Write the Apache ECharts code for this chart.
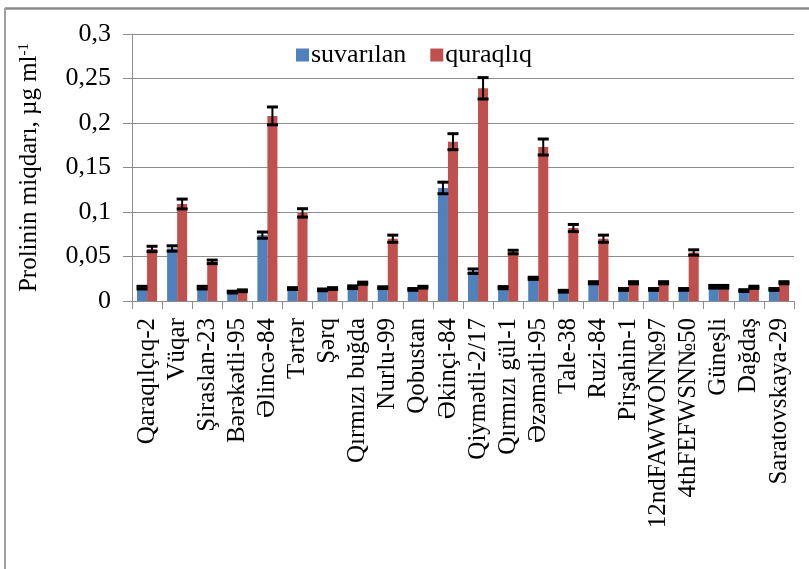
<!DOCTYPE html>
<html>
<head>
<meta charset="utf-8">
<script src="https://cdn.jsdelivr.net/npm/echarts@6/dist/echarts.min.js"></script>
<style>
  html, body { margin: 0; padding: 0; background: #fff; }
  #chart { width: 809px; height: 569px; }
</style>
</head>
<body>
<div id="chart"></div>
<script>
// Wheat varieties
const categories = ['Qaraqılçıq-2', 'Vüqar', 'Şiraslan-23', 'Bərəkətli-95', 'Əlincə-84', 'Tərtər', 'Şərq',
  'Qırmızı buğda', 'Nurlu-99', 'Qobustan', 'Əkinçi-84', 'Qiymətli-2/17', 'Qırmızı gül-1', 'Əzəmətli-95',
  'Tale-38', 'Ruzi-84', 'Pirşahin-1', '12ndFAWWON№97', '4thFEFWSN№50', 'Güneşli', 'Dağdaş', 'Saratovskaya-29'];

// Proline content, µg/ml
const suvarilan = [0.015, 0.059, 0.015, 0.010, 0.074, 0.014, 0.0125, 0.0155, 0.015, 0.013, 0.127,
  0.0335, 0.015, 0.0255, 0.011, 0.0205, 0.013, 0.013, 0.013, 0.016, 0.0117, 0.013];
const quraqliq = [0.0585, 0.109, 0.044, 0.0115, 0.208, 0.099, 0.014, 0.020, 0.070, 0.0155, 0.179,
  0.239, 0.055, 0.173, 0.082, 0.070, 0.0205, 0.0205, 0.0545, 0.016, 0.0154, 0.0205];

// Standard errors
const errSuvarilan = [0.0015, 0.003, 0.0015, 0.001, 0.0035, 0.001, 0.001, 0.0015, 0.001, 0.001, 0.0065,
  0.0025, 0.0012, 0.0012, 0.001, 0.0012, 0.001, 0.001, 0.001, 0.0015, 0.001, 0.001];
const errQuraqliq = [0.003, 0.0055, 0.002, 0.001, 0.010, 0.0047, 0.001, 0.0012, 0.004, 0.001, 0.009,
  0.012, 0.002, 0.009, 0.004, 0.004, 0.0012, 0.0012, 0.003, 0.0015, 0.0012, 0.0012];

const yTickLabels = ['0', '0,05', '0,1', '0,15', '0,2', '0,25', '0,3'];

const FONT = '"Liberation Serif", "Times New Roman", serif';
const BLUE = '#4F81BD';
const RED = '#C0504D';

function errorSeries(values, errors, side) {
  return {
    type: 'custom',
    silent: true,
    z: 5,
    data: values.map((v, i) => [i, v, errors[i]]),
    renderItem: function (params, api) {
      const i = api.value(0), v = api.value(1), e = api.value(2);
      const band = api.size([1, 0])[0];
      const dx = side * band / 6;
      const top = api.coord([i, v + e]);
      const bot = api.coord([i, v - e]);
      const x = top[0] + dx;
      const hw = band / 6 + 0.5;
      const style = { stroke: '#000', lineWidth: 2 };
      const cap = { stroke: '#000', lineWidth: 3 };
      return {
        type: 'group',
        children: [
          { type: 'line', shape: { x1: x, y1: top[1], x2: x, y2: bot[1] }, style: style },
          { type: 'line', shape: { x1: x - hw, y1: top[1], x2: x + hw, y2: top[1] }, style: cap },
          { type: 'line', shape: { x1: x - hw, y1: bot[1], x2: x + hw, y2: bot[1] }, style: cap }
        ]
      };
    }
  };
}

const chart = echarts.init(document.getElementById('chart'), null, { renderer: 'canvas' });
chart.setOption({
  animation: false,
  backgroundColor: '#fff',
  textStyle: { fontFamily: FONT },
  graphic: [
    { type: 'line', shape: { x1: 5, y1: 8.5, x2: 809, y2: 8.5 }, style: { stroke: '#8a8a8a', lineWidth: 2.5 } },
    { type: 'line', shape: { x1: 5, y1: 8, x2: 5, y2: 569 }, style: { stroke: '#a0a0a0', lineWidth: 2 } }
  ],
  legend: {
    left: 291,
    top: 37,
    itemWidth: 13,
    itemHeight: 13,
    itemGap: 24,
    icon: 'rect',
    textStyle: { fontFamily: FONT, fontSize: 26, color: '#000', padding: [0, 0, 0, -3] },
    data: ['suvarılan', 'quraqlıq']
  },
  grid: { left: 132, right: 15, top: 34, bottom: 268, containLabel: false },
  xAxis: {
    type: 'category',
    data: categories,
    axisLine: { lineStyle: { color: '#8c8c8c', width: 1 } },
    axisTick: { show: true, length: 8, alignWithLabel: false, lineStyle: { color: '#8c8c8c' } },
    axisLabel: {
      interval: 0,
      rotate: 90,
      margin: 17,
      fontFamily: FONT,
      fontSize: 25,
      color: '#000'
    }
  },
  yAxis: {
    type: 'value',
    min: 0,
    max: 0.3,
    interval: 0.05,
    name: 'Prolinin miqdarı, µg ml{sup|-1}',
    nameLocation: 'middle',
    nameRotate: 90,
    nameGap: 90,
    nameTextStyle: {
      fontFamily: FONT,
      fontSize: 25,
      color: '#000',
      rich: {
        sup: { fontFamily: FONT, fontSize: 15, color: '#000', verticalAlign: 'top', padding: [0, 0, 10, 0] }
      }
    },
    axisLine: { show: true, lineStyle: { color: '#8c8c8c', width: 1 } },
    axisTick: { show: true, length: 9, lineStyle: { color: '#8c8c8c' } },
    splitLine: { show: true, lineStyle: { color: '#8c8c8c', width: 1 } },
    axisLabel: {
      margin: 21,
      fontFamily: FONT,
      fontSize: 26,
      color: '#000',
      formatter: function (v) { return yTickLabels[Math.round(v / 0.05)]; }
    }
  },
  series: [
    {
      name: 'suvarılan',
      type: 'bar',
      data: suvarilan,
      barGap: '0%',
      barCategoryGap: '33.33%',
      itemStyle: { color: BLUE }
    },
    {
      name: 'quraqlıq',
      type: 'bar',
      data: quraqliq,
      barGap: '0%',
      barCategoryGap: '33.33%',
      itemStyle: { color: RED }
    },
    errorSeries(suvarilan, errSuvarilan, -1),
    errorSeries(quraqliq, errQuraqliq, 1)
  ]
});
</script>
</body>
</html>
